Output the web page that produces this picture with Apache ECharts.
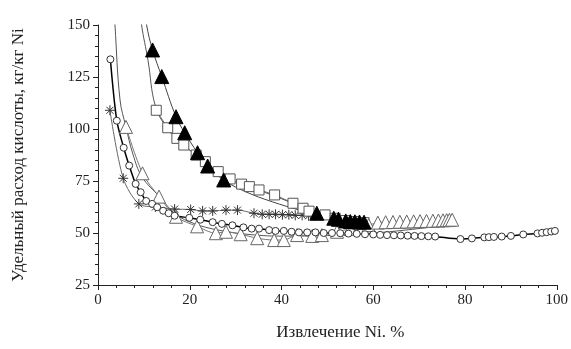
<!DOCTYPE html>
<html lang="ru">
<head>
<meta charset="UTF-8">
<title>Удельный расход кислоты</title>
<style>
  html, body { margin: 0; padding: 0; background: #fff; }
  #chart { width: 571px; height: 349px; }
</style>
</head>
<body>
<div id="chart"></div>
<script src="https://cdn.jsdelivr.net/npm/echarts@6/dist/echarts.min.js"></script>
<script>
// открытые кружки
var circX = [2.7, 4.1, 5.6, 6.8, 8.2, 9.3, 10.5, 11.8, 12.9, 14.2, 15.4, 16.7, 19.9, 22.3, 25, 27, 29.3, 31.7, 33.5, 35.1, 37.3, 38.7, 40.5, 42.2, 43.8, 45.6, 47.4, 49.2, 51, 52.8, 54.6, 56.4, 58.2, 60, 61.5, 63, 64.5, 66, 67.5, 69, 70.5, 72, 73.5, 79, 81.5, 84.2, 85.2, 86.3, 88, 90, 92.7, 95.8, 96.8, 97.8, 98.8, 99.6];
var circY = [133.5, 104, 91, 82.4, 73.6, 69.6, 65.4, 64, 62.4, 60.7, 59.5, 58.3, 57.3, 56.4, 55.2, 54.4, 53.7, 52.7, 52.1, 52.1, 51.4, 51, 51, 50.6, 50.3, 50.3, 50.3, 50, 50, 49.9, 49.7, 49.6, 49.4, 49.3, 49.1, 49, 48.9, 48.8, 48.7, 48.6, 48.5, 48.4, 48.3, 47.1, 47.4, 47.9, 48, 48.1, 48.3, 48.6, 49.3, 49.8, 50.1, 50.4, 50.7, 51];

// звёздочки
var starX = [2.6, 5.5, 8.9, 12.5, 16.7, 20.2, 22.8, 25, 27.9, 30.4, 34, 35.8, 37.3, 38.7, 40.2, 41.6, 43, 44.5, 45.9, 47.3];
var starY = [109, 76.3, 64, 62.5, 61.5, 61.3, 60.6, 60.6, 61, 61, 59.5, 59, 59, 59, 58.8, 58.8, 58.5, 58.5, 58.3, 58.2];

// открытые треугольники
var triX = [6.1, 9.7, 13.3, 17, 21.6, 25.7, 27.9, 31.1, 34.7, 38.4, 40.5, 43.4, 46.7, 48.8, 52.1, 55, 57, 59, 61, 62.7, 64.3, 65.8, 67.3, 68.8, 70.2, 71.6, 73, 74.2, 75.2, 76, 76.6, 77.2];
var triY = [101, 78.7, 67.5, 57.8, 53.2, 49.9, 50.6, 49.4, 47.5, 46.6, 46.6, 49, 48.6, 49, 50.6, 52, 52.8, 53.8, 55, 55.2, 55.3, 55.4, 55.5, 55.6, 55.7, 55.8, 55.9, 56, 56.1, 56.2, 56.3, 56.4];

// квадраты
var sqX = [12.7, 15.2, 17.2, 18.7, 21.4, 23.4, 26.2, 28.8, 31.3, 33, 35.1, 38.5, 42.5, 44.7, 46, 49.5, 51.7, 54, 56, 58];
var sqY = [109, 100.6, 95.5, 92.3, 87.5, 84.3, 79.5, 76, 73.5, 72.3, 70.7, 68.3, 64.3, 61.9, 60.5, 58.7, 57.1, 56, 55.5, 55];

// закрашенные треугольники
var ftX = [11.9, 13.9, 17, 18.9, 21.7, 23.9, 27.4, 47.7, 51.4, 52.4, 54, 55, 56, 57, 58];
var ftY = [138, 125.2, 105.9, 98.2, 88.6, 82.2, 75.5, 59.5, 57.1, 56.6, 55.8, 55.5, 55.4, 55.3, 55.2];

// линии аппроксимации
var fitTriX = [3.3, 3.7, 4.8, 6.1, 7.6, 9.6, 13.4, 17, 21, 26, 32, 40, 50, 60, 67, 77];
var fitTriY = [165, 150, 114, 101, 88, 77, 67.5, 59, 54.5, 51.5, 49.5, 48.5, 48.8, 50, 51.4, 54];
var fitSqX = [9.1, 9.5, 10.9, 12.5, 15, 17, 19, 21.5, 25, 30, 35, 40, 45, 50, 58];
var fitSqY = [160, 150, 133, 111, 100.5, 95.5, 91.5, 87.3, 81, 74.5, 70.6, 66.5, 61.8, 58.6, 55];
var fitFtX = [10.2, 10.6, 11.9, 13.9, 17, 18.9, 21.7, 23.9, 27.4, 32, 38, 44, 48, 52, 58];
var fitFtY = [160, 150, 138, 125.2, 105.9, 98.2, 88.6, 82.2, 75.5, 70, 65, 61, 59, 57, 55];

function pts(xs, ys) {
  return xs.map(function (x, i) { return [x, ys[i]]; });
}

var starPath = 'path://M0,5L10,5M5,0L5,10M1.5,1.5L8.5,8.5M8.5,1.5L1.5,8.5';
var serif = 'Liberation Serif';

var chart = echarts.init(document.getElementById('chart'));
chart.setOption({
  animation: false,
  grid: { left: 98, right: 12, top: 25, bottom: 64 },
  xAxis: {
    type: 'value', min: 0, max: 100, interval: 20,
    name: 'Извлечение Ni. %', nameLocation: 'middle', nameGap: 39,
    nameTextStyle: { fontFamily: serif, fontSize: 17, color: '#222', padding: [0, 0, 0, 26] },
    axisLine: { lineStyle: { color: '#222', width: 1 } },
    axisTick: { length: 5, lineStyle: { color: '#222' } },
    minorTick: { show: true, splitNumber: 5, length: 3, lineStyle: { color: '#222' } },
    axisLabel: { fontFamily: serif, fontSize: 15, color: '#222', margin: 8 },
    splitLine: { show: false }
  },
  yAxis: {
    type: 'value', min: 25, max: 150, interval: 25,
    name: 'Удельный расход кислоты, кг/кг Ni', nameLocation: 'middle', nameGap: 71,
    nameTextStyle: { fontFamily: serif, fontSize: 17, color: '#222' },
    axisLine: { show: true, lineStyle: { color: '#222', width: 1 } },
    axisTick: { show: true, length: 5, lineStyle: { color: '#222' } },
    minorTick: { show: true, splitNumber: 5, length: 3, lineStyle: { color: '#222' } },
    axisLabel: { fontFamily: serif, fontSize: 15, color: '#222', margin: 8 },
    splitLine: { show: false }
  },
  series: [
    {
      type: 'line', data: pts(fitTriX, fitTriY), smooth: 0.4, symbol: 'none',
      lineStyle: { color: '#555', width: 1 }
    },
    {
      type: 'line', data: pts(fitSqX, fitSqY), smooth: 0.4, symbol: 'none',
      lineStyle: { color: '#555', width: 1 }
    },
    {
      type: 'line', data: pts(fitFtX, fitFtY), smooth: 0.4, symbol: 'none',
      lineStyle: { color: '#444', width: 1 }
    },
    {
      type: 'line', data: pts(starX, starY), smooth: 0.3,
      symbol: starPath, symbolSize: 10,
      itemStyle: { color: 'rgba(0,0,0,0)', borderColor: '#333', borderWidth: 1 },
      lineStyle: { color: '#666', width: 1 }
    },
    {
      type: 'line', data: pts(sqX, sqY), smooth: 0.3,
      symbol: 'rect', symbolSize: 10,
      itemStyle: { color: '#fff', borderColor: '#555', borderWidth: 1 },
      lineStyle: { color: '#666', width: 1 }
    },
    {
      type: 'line', data: pts(triX, triY), smooth: 0.3,
      symbol: 'triangle', symbolSize: 13,
      itemStyle: { color: '#fff', borderColor: '#666', borderWidth: 1 },
      lineStyle: { color: '#777', width: 1 }
    },
    {
      type: 'line', data: pts(circX, circY), smooth: 0.3,
      symbol: 'circle', symbolSize: 7,
      itemStyle: { color: '#fff', borderColor: '#333', borderWidth: 1 },
      lineStyle: { color: '#000', width: 1.5 }
    },
    {
      type: 'line', data: pts(ftX, ftY), smooth: 0.3,
      symbol: 'triangle', symbolSize: 14,
      itemStyle: { color: '#000', borderColor: '#000', borderWidth: 1 },
      lineStyle: { width: 0, opacity: 0 }
    }
  ]
});
</script>
</body>
</html>
